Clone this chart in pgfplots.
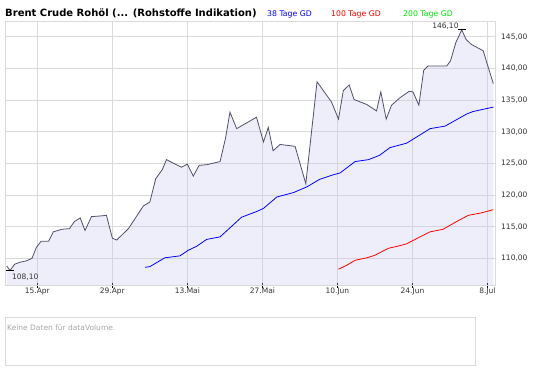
\documentclass[border=0pt]{standalone}
\usepackage{fontspec}
\setmainfont{DejaVu Sans}
\usepackage{pgfplots}
\pgfplotsset{compat=1.18}
\definecolor{gridgray}{RGB}{218,218,218}
\definecolor{pricecol}{RGB}{80,80,104}
\definecolor{fillcol}{RGB}{200,200,240}
\definecolor{maxgreen}{RGB}{0,230,0}
\begin{document}
\begin{tikzpicture}[x=1pt,y=1pt]
\path[use as bounding box] (0,0) rectangle (545,370);
\begin{axis}[at={(5pt,85pt)}, anchor=south west, scale only axis,
  width=490.5pt, height=264pt,
  xmin=-6.03, xmax=85.5, ymin=105.8, ymax=147.5,
  axis line style={gridgray, line width=0.8pt},
  grid=major, grid style={gridgray, line width=0.8pt},
  xtick={0,14,28,42,56,70,84},
  xticklabels={15.Apr,29.Apr,13.Mai,27.Mai,10.Jun,24.Jun,8.Jul},
  ytick={110,115,120,125,130,135,140,145},
  yticklabel pos=right, xtick pos=bottom,
  tick align=center, major tick length=5pt,
  xtick style={draw=black, densely dotted, line width=0.6pt},
  ytick style={draw=none},
  every tick label/.append style={font=\fontsize{7.5}{9}\selectfont, text=black!80},
  xticklabel style={inner sep=1pt, yshift=1pt},
  yticklabel style={inner sep=1pt, xshift=2pt},
  /pgf/number format/.cd, fixed, fixed zerofill, precision=2, use comma, assume math mode=true,
]
\addplot[draw=none, fill=fillcol, fill opacity=0.3] coordinates {
(-5.7,108.8) (-5.1,108.1) (-4.2,109.1) (-3.2,109.4) (-2.1,109.6) (-1.0,110.0)
(-0.2,111.7) (0.7,112.7) (2.1,112.7) (3.0,114.2) (4.6,114.6) (6.0,114.7)
(6.9,115.8) (8.0,116.4) (8.9,114.4) (10.1,116.6) (11.7,116.7) (12.9,116.8)
(14.0,113.2) (14.8,112.9) (17.0,114.7) (19.8,118.3) (21.0,118.9) (22.1,122.6)
(23.3,124.0) (24.1,125.6) (26.9,124.4) (28.0,124.9) (29.1,123.0) (30.2,124.7)
(31.6,124.8) (34.1,125.3) (35.1,128.9) (35.95,133.1) (37.2,130.5) (40.9,132.3)
(42.2,128.4) (43.1,130.7) (44.0,127.0) (45.3,128.0) (48.1,127.7) (50.1,121.8)
(52.2,137.9) (54.9,134.7) (56.2,132.0) (57.1,136.5) (58.2,137.4) (59.1,135.1)
(61.5,134.3) (63.3,133.3) (64.1,136.3) (65.1,132.0) (66.1,134.2) (67.7,135.4)
(69.4,136.4) (70.1,136.3) (71.2,134.2) (72.1,139.7) (72.9,140.4) (76.4,140.4)
(77.1,141.2) (78.1,144.1) (79.2,146.1) (80.0,144.6) (81.0,143.8) (83.2,142.8)
(84.1,140.3) (85.1,137.6)
} \closedcycle;
\addplot[pricecol, line width=0.8pt] coordinates {
(-5.7,108.8) (-5.1,108.1) (-4.2,109.1) (-3.2,109.4) (-2.1,109.6) (-1.0,110.0)
(-0.2,111.7) (0.7,112.7) (2.1,112.7) (3.0,114.2) (4.6,114.6) (6.0,114.7)
(6.9,115.8) (8.0,116.4) (8.9,114.4) (10.1,116.6) (11.7,116.7) (12.9,116.8)
(14.0,113.2) (14.8,112.9) (17.0,114.7) (19.8,118.3) (21.0,118.9) (22.1,122.6)
(23.3,124.0) (24.1,125.6) (26.9,124.4) (28.0,124.9) (29.1,123.0) (30.2,124.7)
(31.6,124.8) (34.1,125.3) (35.1,128.9) (35.95,133.1) (37.2,130.5) (40.9,132.3)
(42.2,128.4) (43.1,130.7) (44.0,127.0) (45.3,128.0) (48.1,127.7) (50.1,121.8)
(52.2,137.9) (54.9,134.7) (56.2,132.0) (57.1,136.5) (58.2,137.4) (59.1,135.1)
(61.5,134.3) (63.3,133.3) (64.1,136.3) (65.1,132.0) (66.1,134.2) (67.7,135.4)
(69.4,136.4) (70.1,136.3) (71.2,134.2) (72.1,139.7) (72.9,140.4) (76.4,140.4)
(77.1,141.2) (78.1,144.1) (79.2,146.1) (80.0,144.6) (81.0,143.8) (83.2,142.8)
(84.1,140.3) (85.1,137.6)
};
\addplot[blue, line width=0.8pt] coordinates {
(20.1,108.6) (21.0,108.7) (23.8,110.1) (26.6,110.4) (28.2,111.3) (29.7,111.9)
(31.6,113.0) (34.1,113.4) (36.3,115.1) (38.1,116.5) (40.9,117.4) (42.2,117.9)
(44.7,119.7) (47.8,120.4) (50.3,121.3) (52.7,122.5) (55.2,123.2) (56.5,123.5)
(59.3,125.3) (61.8,125.6) (63.9,126.3) (65.8,127.5) (68.9,128.2) (71.4,129.5)
(73.3,130.5) (76.1,130.9) (80.1,132.8) (81.3,133.2) (85.1,133.9)
};
\addplot[red, line width=0.8pt] coordinates {
(56.2,108.3) (57.7,108.9) (59.3,109.7) (61.5,110.1) (63.0,110.5) (65.5,111.6)
(67.1,111.9) (68.9,112.3) (71.4,113.4) (73.3,114.2) (75.7,114.6) (78.2,115.8)
(80.4,116.8) (82.9,117.2) (85.1,117.7)
};
\addplot[only marks, mark=-, mark size=4pt, mark options={black, line width=0.9pt}] coordinates {(79.2,146.1) (-5.1,108.1)};
\node[anchor=base east, font=\fontsize{7.5}{9}\selectfont, text=black!80, inner sep=0pt] at (axis cs:79.2,146.1) [xshift=-3pt, yshift=1.5pt] {146,10};
\node[anchor=base west, font=\fontsize{7.5}{9}\selectfont, text=black!80, inner sep=0pt] at (axis cs:-5.1,108.1) [xshift=2pt, yshift=-9pt] {108,10};
\end{axis}
\node[anchor=base west, inner sep=0pt, font=\bfseries\fontsize{10}{12}\selectfont] at (5,353.5) {Brent Crude Rohöl (... (Rohstoffe Indikation)};
\node[anchor=base west, inner sep=0pt, text=blue, font=\fontsize{7.75}{9}\selectfont] at (267,353.5) {38 Tage GD};
\node[anchor=base west, inner sep=0pt, text=red, font=\fontsize{7.75}{9}\selectfont] at (331,353.5) {100 Tage GD};
\node[anchor=base west, inner sep=0pt, text=maxgreen, font=\fontsize{7.75}{9}\selectfont] at (403,353.5) {200 Tage GD};
\draw[gridgray, line width=0.8pt] (5,5) rectangle (475,53);
\node[anchor=base west, inner sep=0pt, text=black!35, font=\fontsize{7.5}{9}\selectfont] at (7,40) {Keine Daten für dataVolume.};
\end{tikzpicture}
\end{document}
